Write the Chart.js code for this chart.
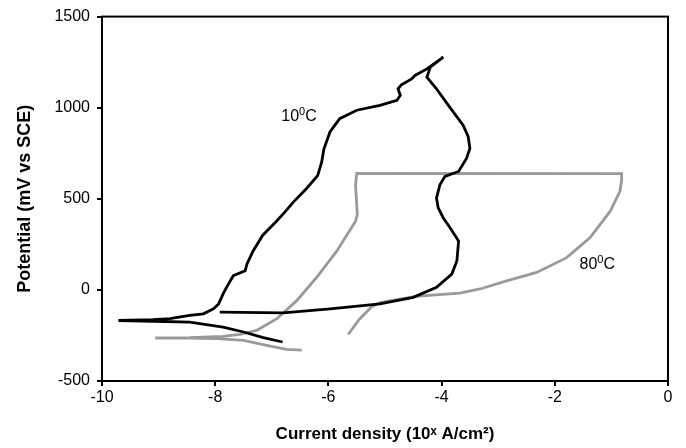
<!DOCTYPE html>
<html>
<head>
<meta charset="utf-8">
<script src="https://cdn.jsdelivr.net/npm/chart.js@4"></script>
<style>
  html, body { margin: 0; padding: 0; background: #fff; }
</style>
</head>
<body>
<canvas id="chart" width="686" height="448"></canvas>
<script>
// 10 C curve (black), points in sweep order
const coldX = [-6.81, -7.15, -7.50, -7.86, -8.45, -9.10, -9.71,
  -9.10, -8.80, -8.45, -8.21, -8.03, -7.94, -7.86, -7.80, -7.68, -7.47, -7.44, -7.33,
  -7.16, -6.93, -6.77, -6.62, -6.39, -6.19, -6.12, -6.08, -5.97, -5.80, -5.50, -5.09,
  -4.79, -4.73, -4.77, -4.71, -4.53, -4.47, -4.26, -3.97,
  -4.20, -4.26, -4.09, -3.88, -3.62, -3.53, -3.50, -3.56, -3.70, -3.94, -4.03, -4.09,
  -4.06, -3.97, -3.85, -3.70, -3.73, -3.82, -4.09, -4.50, -5.09, -5.97, -6.80, -7.92];
const coldY = [-286, -262, -231, -204, -177, -172, -168,
  -163, -158, -140, -131, -104, -77, -22, 14, 78, 105, 141, 214,
  300, 373, 427, 482, 555, 627, 700, 773, 868, 940, 986, 1013,
  1040, 1068, 1104, 1126, 1158, 1177, 1213, 1277,
  1222, 1168, 1104, 1013, 904, 841, 777, 722, 650, 623, 577, 504,
  450, 395, 341, 268, 159, 87, 14, -41, -77, -104, -126, -122];

// 80 C curve (grey)
const hotX = [-6.47, -6.74, -7.09, -7.50, -7.97, -8.50, -9.06,
  -8.45, -7.86, -7.56, -7.27, -6.91, -6.56, -6.21, -5.85, -5.74, -5.52, -5.49, -5.52, -5.50,
  -0.82, -0.82, -0.85, -1.02, -1.38, -1.79, -2.32, -2.85, -3.32, -3.68, -4.46, -5.09,
  -5.23, -5.46, -5.65];
const hotY = [-331, -327, -304, -277, -267, -265, -264,
  -262, -255, -244, -222, -158, -59, 68, 214, 268, 377, 414, 577, 640,
  638, 600, 541, 432, 286, 177, 96, 50, 5, -18, -36, -70,
  -91, -164, -245];

const labelNums = ["10", "80"];
const labelX = [-6.52, -1.25];
const labelY = [958, 145];

const toPoints = (xs, ys) => xs.map((v, i) => ({ x: v, y: ys[i] }));
const fontFam = "Arial, 'Liberation Sans'";

// box round the plot + the curve labels with a raised "0"
const extras = {
  id: "extras",
  afterDatasetsDraw(chart) {
    const { ctx, chartArea: a, scales: { x, y } } = chart;
    ctx.save();
    ctx.strokeStyle = "#000";
    ctx.lineWidth = 2;
    ctx.strokeRect(a.left, a.top, a.right - a.left, a.bottom - a.top);

    ctx.fillStyle = "#000";
    ctx.textBaseline = "alphabetic";
    labelNums.forEach((num, i) => {
      const big = "16px " + fontFam;
      const small = "11px " + fontFam;
      ctx.font = big;
      const w1 = ctx.measureText(num).width;
      const w3 = ctx.measureText("C").width;
      ctx.font = small;
      const w2 = ctx.measureText("0").width;
      const total = w1 + w2 + w3;
      let px = x.getPixelForValue(labelX[i]) - total / 2;
      const py = y.getPixelForValue(labelY[i]) + 6;
      ctx.font = big;
      ctx.fillText(num, px, py);
      px += w1;
      ctx.font = small;
      ctx.fillText("0", px, py - 6);
      px += w2;
      ctx.font = big;
      ctx.fillText("C", px, py);
    });
    ctx.restore();
  }
};

new Chart(document.getElementById("chart"), {
  type: "scatter",
  data: {
    datasets: [
      {
        label: "10C",
        data: toPoints(coldX, coldY),
        showLine: true,
        borderColor: "#000",
        borderWidth: 2.8,
        pointRadius: 0,
        tension: 0,
      },
      {
        label: "80C",
        data: toPoints(hotX, hotY),
        showLine: true,
        borderColor: "#9a9a9a",
        borderWidth: 2.8,
        pointRadius: 0,
        tension: 0,
      },
    ],
  },
  options: {
    responsive: false,
    animation: false,
    layout: { padding: { top: 14, right: 18, left: 0, bottom: 0 } },
    plugins: {
      legend: { display: false },
      tooltip: { enabled: false },
    },
    scales: {
      x: {
        type: "linear",
        min: -10,
        max: 0,
        afterFit: (s) => { s.height = 67; },
        ticks: {
          stepSize: 2,
          color: "#000",
          padding: 2,
          callback: (v) => String(v),
          font: { family: fontFam, size: 16 },
        },
        grid: { drawOnChartArea: false, drawTicks: true, tickLength: 5, color: "#000", lineWidth: 2 },
        border: { display: true, color: "#000", width: 2 },
        title: {
          display: true,
          text: "Current density (10ˣ A/cm²)",
          color: "#000",
          padding: { top: 0, bottom: 3 },
          font: { family: fontFam, size: 17, weight: "bold" },
        },
      },
      y: {
        type: "linear",
        min: -500,
        max: 1500,
        afterFit: (s) => { s.width = 102; },
        ticks: {
          stepSize: 500,
          color: "#000",
          padding: 7,
          callback: (v) => String(v),
          font: { family: fontFam, size: 16 },
        },
        grid: { drawOnChartArea: false, drawTicks: true, tickLength: 5, color: "#000", lineWidth: 2 },
        border: { display: true, color: "#000", width: 2 },
        title: {
          display: true,
          text: "Potential (mV vs SCE)",
          color: "#000",
          padding: { top: 14, bottom: 0 },
          font: { family: fontFam, size: 18, weight: "bold" },
        },
      },
    },
  },
  plugins: [extras],
});
</script>
</body>
</html>
